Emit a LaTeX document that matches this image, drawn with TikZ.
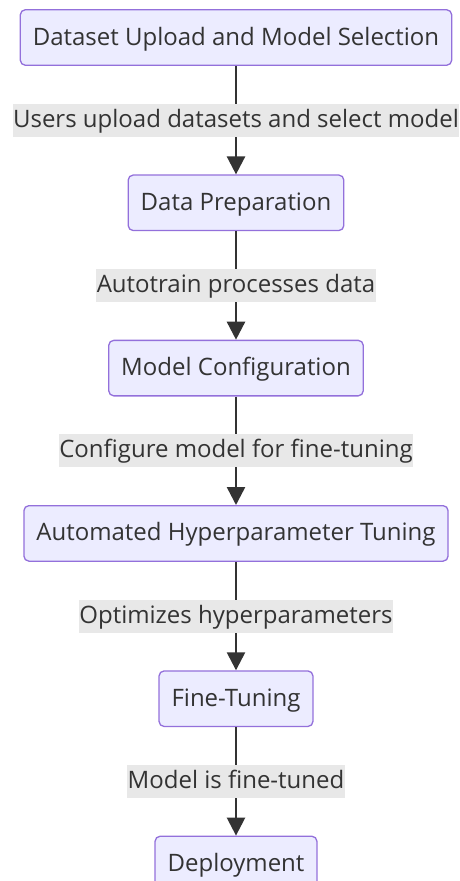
\documentclass[tikz,border=0pt]{standalone}
\usepackage{fontspec}
\setmainfont{Open Sans}
\usepackage{xcolor}
\usepackage{tikz}
\usetikzlibrary{arrows.meta, positioning}
\definecolor{stepfill}{HTML}{ECECFF}
\definecolor{stepborder}{HTML}{9370DB}
\definecolor{labelgray}{HTML}{E8E8E8}
\definecolor{inkgray}{HTML}{333333}

\begin{document}
\begin{tikzpicture}[
    x=1pt, y=1pt,
    node distance=108.5pt,
    stage/.style={rectangle, rounded corners=5pt, minimum height=55.5pt, inner xsep=12.5pt, text centered, draw=stepborder, line width=1.3pt, fill=stepfill, text=inkgray, font=\fontsize{24}{29}\selectfont, text height=19pt, text depth=4pt},
    edgelabel/.style={rectangle, fill=labelgray, text=inkgray, inner xsep=0.5pt, inner ysep=5pt, font=\fontsize{24}{29}\selectfont, text height=18.5pt, text depth=4.5pt},
    arrow/.style={-{Triangle[length=18pt, width=18pt]}, line width=2.5pt, color=inkgray}
]
\useasboundingbox (0,0) rectangle (460,-881);

\node[stage] (upload) at (236,-37.5) {Dataset Upload and Model Selection};
\node[stage, below=of upload] (prep) {Data Preparation};
\node[stage, below=of prep] (config) {Model Configuration};
\node[stage, below=of config] (hyper) {Automated Hyperparameter Tuning};
\node[stage, below=of hyper] (finetune) {Fine-Tuning};
\node[stage, below=of finetune] (deploy) {Deployment};

\draw[arrow] (upload) -- node[edgelabel] {Users upload datasets and select model} (prep);
\draw[arrow] (prep) -- node[edgelabel] {Autotrain processes data} (config);
\draw[arrow] (config) -- node[edgelabel] {Configure model for fine-tuning} (hyper);
\draw[arrow] (hyper) -- node[edgelabel] {Optimizes hyperparameters} (finetune);
\draw[arrow] (finetune) -- node[edgelabel] {Model is fine-tuned} (deploy);

\end{tikzpicture}
\end{document}
